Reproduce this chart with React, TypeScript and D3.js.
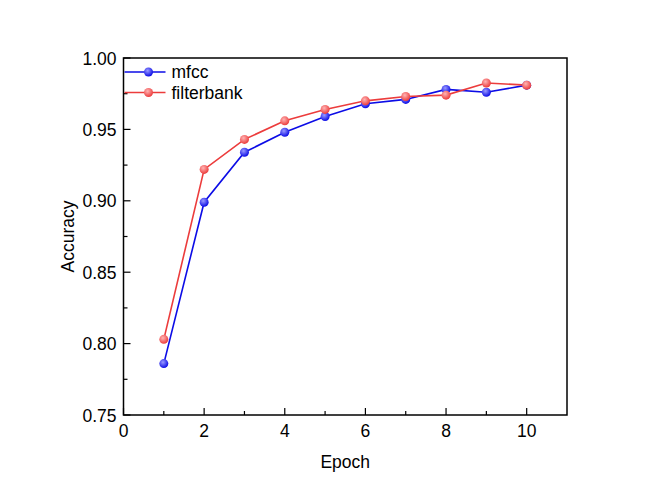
import React, { useEffect, useRef } from "react";
import * as d3 from "d3";

const epochs = [1, 2, 3, 4, 5, 6, 7, 8, 9, 10];
const mfcc = [0.786, 0.899, 0.934, 0.948, 0.959, 0.968, 0.971, 0.978, 0.976, 0.981];
const filterbank = [0.803, 0.922, 0.943, 0.956, 0.964, 0.97, 0.973, 0.974, 0.9825, 0.981];
const xTicks = [0, 2, 4, 6, 8, 10];
const yTicks = [0.75, 0.8, 0.85, 0.9, 0.95, 1.0];

const seriesList = [
  { name: "mfcc", values: mfcc, color: "#0c0ce6", light: "#9a9aff", id: "gb" },
  { name: "filterbank", values: filterbank, color: "#ec3c3c", light: "#ffb4b4", id: "gr" },
];

const App = () => {
  const ref = useRef<SVGSVGElement>(null);

  useEffect(() => {
    const svg = d3.select(ref.current);
    svg.selectAll("*").remove();
    const margin = { top: 58, right: 79, bottom: 80, left: 123.5 };
    const width = 646;
    const height = 495;

    const x = d3.scaleLinear().domain([0, 11]).range([margin.left, width - margin.right]);
    const y = d3.scaleLinear().domain([0.75, 1.0]).range([height - margin.bottom, margin.top]);
    const font = "'Liberation Sans', Arial, sans-serif";
    const fs = 17.5;

    const defs = svg.append("defs");
    seriesList.forEach((s) => {
      const g = defs
        .append("radialGradient")
        .attr("id", s.id)
        .attr("cx", "40%")
        .attr("cy", "35%")
        .attr("r", "65%");
      g.append("stop").attr("offset", "0%").attr("stop-color", s.light);
      g.append("stop").attr("offset", "100%").attr("stop-color", s.color);
    });

    svg.append("rect").attr("width", width).attr("height", height).attr("fill", "#fff");

    // series
    const line = d3
      .line<number>()
      .x((d, i) => x(epochs[i]))
      .y((d) => y(d));

    seriesList.forEach((s) => {
      svg
        .append("path")
        .datum(s.values)
        .attr("fill", "none")
        .attr("stroke", s.color)
        .attr("stroke-width", 1.6)
        .attr("d", line);
    });
    seriesList.forEach((s) => {
      svg
        .selectAll(null)
        .data(s.values)
        .enter()
        .append("circle")
        .attr("cx", (d, i) => x(epochs[i]))
        .attr("cy", (d) => y(d))
        .attr("r", 4.5)
        .attr("fill", `url(#${s.id})`);
    });

    // frame
    svg
      .append("rect")
      .attr("x", x(0))
      .attr("y", y(1))
      .attr("width", x(11) - x(0))
      .attr("height", y(0.75) - y(1))
      .attr("fill", "none")
      .attr("stroke", "#000")
      .attr("stroke-width", 1.5);

    // x ticks
    const xAll = d3.range(0, 11, 1);
    svg
      .selectAll(null)
      .data(xAll)
      .enter()
      .append("line")
      .attr("x1", (d) => x(d))
      .attr("x2", (d) => x(d))
      .attr("y1", y(0.75))
      .attr("y2", (d) => y(0.75) - (d % 2 === 0 ? 7 : 4))
      .attr("stroke", "#000")
      .attr("stroke-width", 1.2);
    svg
      .selectAll(null)
      .data(xTicks)
      .enter()
      .append("text")
      .attr("x", (d) => x(d))
      .attr("y", y(0.75) + 22)
      .attr("text-anchor", "middle")
      .attr("font-family", font)
      .attr("font-size", fs)
      .text((d) => d);

    // y ticks
    const yAll = d3.range(0, 11).map((i) => 0.75 + i * 0.025);
    svg
      .selectAll(null)
      .data(yAll)
      .enter()
      .append("line")
      .attr("x1", x(0))
      .attr("x2", (d, i) => x(0) + (i % 2 === 0 ? 7 : 4))
      .attr("y1", (d) => y(d))
      .attr("y2", (d) => y(d))
      .attr("stroke", "#000")
      .attr("stroke-width", 1.2);
    svg
      .selectAll(null)
      .data(yTicks)
      .enter()
      .append("text")
      .attr("x", x(0) - 7)
      .attr("y", (d) => y(d) + 6.5)
      .attr("text-anchor", "end")
      .attr("font-family", font)
      .attr("font-size", fs)
      .text((d) => d.toFixed(2));

    // axis titles
    svg
      .append("text")
      .attr("x", (x(0) + x(11)) / 2)
      .attr("y", 468)
      .attr("text-anchor", "middle")
      .attr("font-family", font)
      .attr("font-size", fs)
      .text("Epoch");
    svg
      .append("text")
      .attr("transform", `translate(74,${(y(0.75) + y(1)) / 2}) rotate(-90)`)
      .attr("text-anchor", "middle")
      .attr("font-family", font)
      .attr("font-size", fs)
      .text("Accuracy");

    // legend
    seriesList.forEach((s, i) => {
      const ly = 72 + i * 20.5;
      const g = svg.append("g");
      g.append("line")
        .attr("x1", x(0) + 1)
        .attr("x2", x(0) + 42)
        .attr("y1", ly)
        .attr("y2", ly)
        .attr("stroke", s.color)
        .attr("stroke-width", 1.6);
      g.append("circle")
        .attr("cx", x(0) + 25)
        .attr("cy", ly)
        .attr("r", 4.5)
        .attr("fill", `url(#${s.id})`);
      g.append("text")
        .attr("x", x(0) + 48)
        .attr("y", ly + 6)
        .attr("font-family", font)
        .attr("font-size", fs)
        .text(s.name);
    });
  }, []);

  return (
    <svg
      ref={ref}
      width={646}
      height={495}
      style={{ position: "absolute", left: 0, top: 0 }}
    ></svg>
  );
};

export default App;
